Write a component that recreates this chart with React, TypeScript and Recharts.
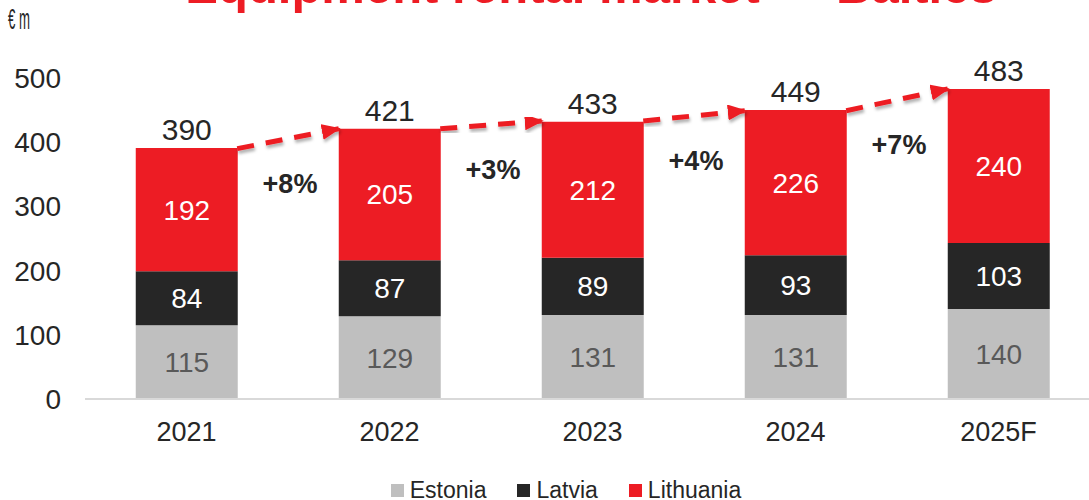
import React from 'react';
import { ComposedChart, Bar, Line, XAxis, YAxis, LabelList, Legend } from 'recharts';

const categories = ['2021', '2022', '2023', '2024', '2025F'];
const estonia = [115, 129, 131, 131, 140];
const latvia = [84, 87, 89, 93, 103];
const lithuania = [192, 205, 212, 226, 240];
const totals = [390, 421, 433, 449, 483];
const growth = ['+8%', '+3%', '+4%', '+7%'];
const yTicks = [0, 100, 200, 300, 400, 500];
const seriesNames = ['Estonia', 'Latvia', 'Lithuania'];
const seriesColors = ['#BFBFBF', '#262626', '#ED1C24'];
const labelColors = ['#595959', '#FFFFFF', '#FFFFFF'];
const title = 'Equipment rental market — Baltics';
const unitLabel = '€ m';

const data = categories.map((c, i) => ({
  category: c,
  Estonia: estonia[i],
  Latvia: latvia[i],
  Lithuania: lithuania[i],
  total: totals[i],
}));

// each growth arrow runs from the right edge of one bar to the left edge of the next
const arrows = growth.map((g, i) => [
  { x: i + 0.25, y: totals[i] },
  { x: i + 0.5, y: (totals[i] + totals[i + 1]) / 2, growth: g },
  { x: i + 0.75, y: totals[i + 1] },
]);

const FONT = '"Liberation Sans", Arial, sans-serif';
const TEXT = '#262626';

const TotalLabel = (props: any) => {
  const { x, y, width, value } = props;
  return (
    <text x={Number(x) + Number(width) / 2} y={Number(y) - 8} textAnchor="middle" fontSize={30} fill={TEXT} fontFamily={FONT}>
      {value}
    </text>
  );
};

const GrowthLabel = (props: any) => {
  const { x, y, value } = props;
  if (value === undefined || value === null || value === '') return null;
  return (
    <text x={Number(x) + 2} y={Number(y) + 45} dy="0.35em" textAnchor="middle" fontSize={27} fontWeight="bold" fill={TEXT} fontFamily={FONT}>
      {value}
    </text>
  );
};

const LegendContent = () => (
  <div style={{ display: 'flex', justifyContent: 'center', alignItems: 'center', fontFamily: FONT, fontSize: 23, color: TEXT, paddingLeft: 43 }}>
    {seriesNames.map((n, i) => (
      <div key={n} style={{ display: 'flex', alignItems: 'center', marginRight: i < seriesNames.length - 1 ? 31 : 0 }}>
        <span style={{ display: 'inline-block', width: 13, height: 13, background: seriesColors[i], marginRight: 6 }} />
        <span>{n}</span>
      </div>
    ))}
  </div>
);

export default function App() {
  return (
    <div style={{ position: 'absolute', left: 0, top: 0, width: 1089, height: 500, overflow: 'hidden', background: '#fff', fontFamily: FONT }}>
      <svg width={0} height={0} style={{ position: 'absolute' }}>
        <defs>
          <marker id="arrowHead" markerUnits="userSpaceOnUse" markerWidth={19} markerHeight={16} viewBox="0 0 19 16" refX={17} refY={8} orient="auto">
            <path d="M0,0 L19,8 L0,16 z" fill="#ED1C24" />
          </marker>
          <filter id="dashShadow" x="-10%" y="-50%" width="120%" height="200%">
            <feDropShadow dx="1" dy="3" stdDeviation="1.5" floodColor="#000" floodOpacity="0.3" />
          </filter>
        </defs>
      </svg>
      <ComposedChart
        width={1100}
        height={500}
        data={data}
        margin={{ top: 78, right: 0, bottom: 41, left: 0 }}
        barCategoryGap="25%"
        style={{ fontFamily: FONT }}
      >
        <XAxis
          dataKey="category"
          height={60}
          axisLine={{ stroke: '#D9D9D9', strokeWidth: 2 }}
          tickLine={false}
          tickSize={0}
          tickMargin={23}
          tick={{ fontSize: 27, fill: TEXT, fontFamily: FONT }}
          interval={0}
        />
        <XAxis xAxisId="num" type="number" domain={[-0.5, 4.5]} allowDataOverflow hide dataKey="x" />
        <YAxis
          width={85}
          domain={[0, 500]}
          ticks={yTicks}
          axisLine={false}
          tickLine={false}
          tickSize={0}
          tickMargin={24}
          tick={{ fontSize: 28, fill: TEXT, fontFamily: FONT }}
          interval={0}
        />
        {seriesNames.map((n, i) => (
          <Bar key={n} dataKey={n} stackId="a" fill={seriesColors[i]} isAnimationActive={false}>
            <LabelList dataKey={n} position="center" fill={labelColors[i]} fontSize={28} fontFamily={FONT} />
            {i === seriesNames.length - 1 ? <LabelList dataKey="total" content={TotalLabel} /> : null}
          </Bar>
        ))}
        {arrows.map((a, i) => (
          <Line
            key={'arrow' + i}
            xAxisId="num"
            data={a}
            dataKey="y"
            type="linear"
            stroke="#ED1C24"
            strokeWidth={5}
            strokeDasharray="17 12"
            dot={false}
            activeDot={false}
            legendType="none"
            isAnimationActive={false}
            markerEnd="url(#arrowHead)"
            filter="url(#dashShadow)"
          >
            <LabelList dataKey="growth" content={GrowthLabel} />
          </Line>
        ))}
        <Legend
          content={<LegendContent />}
          wrapperStyle={{ position: 'absolute', left: 0, top: 477, width: 1089, height: 0 }}
        />
      </ComposedChart>
      <svg width={1089} height={40} style={{ position: 'absolute', left: 0, top: 0 }}>
        <text x={591} y={3} textAnchor="middle" fontSize={49} fontWeight="bold" fill="#ED1C24" fontFamily={FONT}>
          {title}
        </text>
        <text x={8} y={29} fontSize={29} fill={TEXT} fontFamily={FONT} textLength={22} lengthAdjust="spacingAndGlyphs">
          {unitLabel}
        </text>
      </svg>
    </div>
  );
}
